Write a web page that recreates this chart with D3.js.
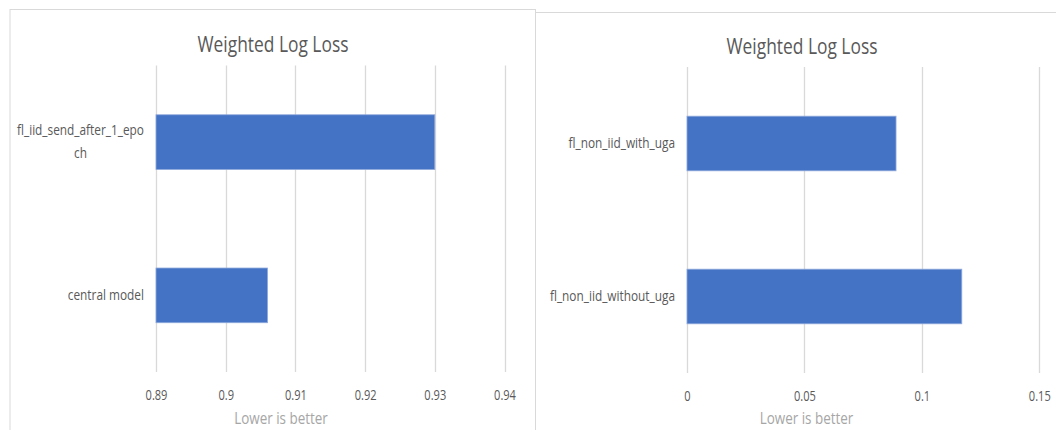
<!DOCTYPE html>
<html>
<head>
<meta charset="utf-8">
<script src="https://cdn.jsdelivr.net/npm/d3@7"></script>
<style>
  html, body { margin: 0; padding: 0; background: #ffffff; }
  svg { display: block; }
  text { font-family: "Open Sans", "DejaVu Sans", sans-serif; }
</style>
</head>
<body>
<svg id="chart" width="1056" height="430"></svg>
<script>
// Left chart: IID federated run vs central model
const leftCategories = ["fl_iid_send_after_1_epoch", "central model"];
const leftValues = [0.930, 0.906];
const leftTicks = [0.89, 0.90, 0.91, 0.92, 0.93, 0.94];

// Right chart: non-IID runs with / without UGA
const rightCategories = ["fl_non_iid_with_uga", "fl_non_iid_without_uga"];
const rightValues = [0.089, 0.117];
const rightTicks = [0, 0.05, 0.10, 0.15];

const chartTitle = "Weighted Log Loss";
const axisTitle = "Lower is better";

const BAR = "#4472c4";
const GRID = "#d9d9d9";
const TEXT = "#595959";
const SX = 0.79; // horizontal squeeze applied to every text run

const svg = d3.select("#chart");
const fmt = d => d3.format("~g")(+d.toFixed(4));

function squeezeText(sel) {
  // scale glyphs horizontally around each text's own anchor
  sel.each(function () {
    const t = d3.select(this);
    const x = +t.attr("x") || 0;
    t.attr("x", x / SX).attr("transform", `scale(${SX},1)`);
    t.selectAll("tspan").each(function () {
      const s = d3.select(this);
      s.attr("x", (+s.attr("x")) / SX);
    });
  });
}

function wrapLabel(textSel, maxWidth) {
  textSel.each(function () {
    const t = d3.select(this);
    const full = t.text();
    const x = +t.attr("x");
    t.text(null);
    const probe = t.append("tspan");
    const measure = s => { probe.text(s); return probe.node().getComputedTextLength() * SX; };
    const lines = [];
    let cur = "";
    for (const ch of full) {
      if (cur.length && measure(cur + ch) > maxWidth) {
        lines.push(cur);
        cur = ch;
      } else {
        cur += ch;
      }
    }
    lines.push(cur);
    const widths = lines.map(measure);
    probe.remove();
    if (lines.length === 1) {
      t.text(full);
      return;
    }
    // multi-line: lines centred inside a block that is right-aligned at the axis
    const blockW = d3.max(widths);
    const cx = x - blockW / 2;
    const lh = 1.5; // em
    t.attr("text-anchor", "middle").attr("dy", null).attr("x", cx);
    lines.forEach((l, i) => {
      t.append("tspan")
        .attr("x", cx)
        .attr("dy", i === 0 ? `${-(lines.length - 1) * lh / 2 + 0.28}em` : `${lh}em`)
        .text(l);
    });
  });
}

function drawPanel(cfg) {
  const g = svg.append("g");

  // chart area frame
  g.append("rect")
    .attr("x", cfg.frame[0]).attr("y", cfg.frame[1])
    .attr("width", cfg.frame[2]).attr("height", cfg.frame[3])
    .attr("fill", "#ffffff").attr("stroke", GRID).attr("stroke-width", 1);

  const x = d3.scaleLinear().domain(cfg.domain).range(cfg.xRange);
  const y = d3.scaleBand().domain(cfg.categories).range(cfg.yRange)
    .paddingInner(0.643).paddingOuter(0.3215);

  // vertical gridlines
  g.append("g").selectAll("line").data(cfg.ticks).join("line")
    .attr("x1", d => Math.round(x(d)) + 0.5).attr("x2", d => Math.round(x(d)) + 0.5)
    .attr("y1", cfg.yRange[0]).attr("y2", cfg.yRange[1])
    .attr("stroke", GRID).attr("stroke-width", 1.3);

  // bars
  g.append("g").selectAll("rect").data(cfg.values).join("rect")
    .attr("x", x(cfg.domain[0]))
    .attr("y", (d, i) => y(cfg.categories[i]))
    .attr("width", d => x(d) - x(cfg.domain[0]))
    .attr("height", y.bandwidth())
    .attr("fill", BAR)
    .attr("stroke", "#8fa9dc").attr("stroke-width", 0.8);

  // value axis (labels only)
  const xAxis = g.append("g")
    .attr("transform", `translate(0,${cfg.yRange[1]})`)
    .call(d3.axisBottom(x).tickValues(cfg.ticks).tickFormat(fmt).tickSize(0).tickPadding(18));
  xAxis.select(".domain").remove();
  xAxis.selectAll("text")
    .attr("fill", TEXT).attr("font-size", 14).attr("font-family", null)
    .call(squeezeText);

  // category axis (labels only)
  const yAxis = g.append("g")
    .attr("transform", `translate(${cfg.xRange[0]},0)`)
    .call(d3.axisLeft(y).tickSize(0).tickPadding(12));
  yAxis.select(".domain").remove();
  yAxis.selectAll("text")
    .attr("fill", TEXT).attr("font-size", 15).attr("font-family", null)
    .call(wrapLabel, 129)
    .call(squeezeText);

  // chart title
  g.append("text")
    .attr("transform", `translate(${cfg.titlePos[0]},${cfg.titlePos[1]}) scale(${SX},1)`)
    .attr("text-anchor", "middle")
    .attr("fill", TEXT).attr("font-size", 22)
    .text(chartTitle);

  // value axis title
  g.append("text")
    .attr("transform", `translate(${cfg.axisTitlePos[0]},${cfg.axisTitlePos[1]}) scale(${SX},1)`)
    .attr("text-anchor", "middle")
    .attr("fill", "#a6a6a6").attr("font-size", 17)
    .text(axisTitle);
}

drawPanel({
  frame: [10, 9.5, 525.5, 440],
  categories: leftCategories,
  values: leftValues,
  domain: [0.89, 0.94],
  ticks: leftTicks,
  xRange: [156, 504.5],
  yRange: [65.5, 372],
  titlePos: [273, 52],
  axisTitlePos: [281, 424]
});

drawPanel({
  frame: [535.5, 12.5, 540, 440],
  categories: rightCategories,
  values: rightValues,
  domain: [0, 0.15],
  ticks: rightTicks,
  xRange: [687, 1039.3],
  yRange: [67, 373],
  titlePos: [802, 54],
  axisTitlePos: [806.5, 424]
});
</script>
</body>
</html>
